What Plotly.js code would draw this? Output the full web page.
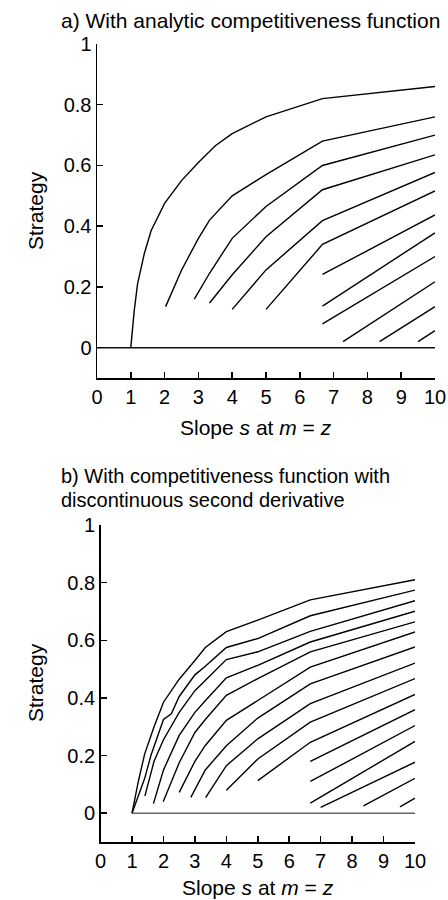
<!DOCTYPE html>
<html>
<head>
<meta charset="utf-8">
<script src="https://cdn.plot.ly/plotly-3.0.1.min.js"></script>
<style>html,body{margin:0;padding:0;background:#fff;}#chart{width:448px;height:900px;}</style>
</head>
<body>
<div id="chart"></div>
<script>
// ---------- Panel a) With analytic competitiveness function ----------
const a1x = [1, 1.1, 1.2, 1.4, 1.6, 2, 2.5, 3, 3.5, 4, 5, 6.67, 10];
const a1y = [0, 0.12, 0.21, 0.31, 0.385, 0.475, 0.55, 0.61, 0.665, 0.705, 0.76, 0.82, 0.86];
const a2x = [2.03, 2.5, 3, 3.33, 4, 5, 6.67, 10];
const a2y = [0.135, 0.255, 0.36, 0.42, 0.5, 0.57, 0.68, 0.76];
const a3x = [2.88, 3.33, 4, 5, 6.67, 10];
const a3y = [0.16, 0.245, 0.36, 0.465, 0.6, 0.7];
const a4x = [3.33, 4, 5, 6.67, 10];
const a4y = [0.147, 0.24, 0.365, 0.52, 0.635];
const a5x = [4, 5, 6.67, 10];
const a5y = [0.126, 0.256, 0.418, 0.577];
const a6x = [5, 6.67, 10];
const a6y = [0.126, 0.34, 0.516];
const a7x = [6.67, 10];
const a7y = [0.241, 0.437];
const a8x = [6.67, 10];
const a8y = [0.137, 0.378];
const a9x = [6.67, 10];
const a9y = [0.078, 0.30];
const a10x = [7.28, 10];
const a10y = [0.02, 0.217];
const a11x = [8.36, 10];
const a11y = [0.02, 0.135];
const a12x = [9.5, 10];
const a12y = [0.02, 0.056];
const aZeroX = [0, 10];
const aZeroY = [0, 0];

// ---------- Panel b) With competitiveness function with discontinuous second derivative ----------
const b1x = [1, 1.2, 1.4, 1.7, 2, 2.5, 3, 3.33, 4, 5, 6.67, 10];
const b1y = [0, 0.11, 0.205, 0.30, 0.385, 0.465, 0.53, 0.575, 0.63, 0.67, 0.74, 0.81];
const b2x = [1, 1.1, 1.25, 1.4, 1.6, 2, 2.25, 2.5, 3, 3.33, 4, 5, 6.67, 10];
const b2y = [0, 0.03, 0.07, 0.12, 0.2, 0.325, 0.345, 0.405, 0.48, 0.51, 0.575, 0.606, 0.685, 0.774];
const b3x = [1.41, 1.7, 2, 2.5, 3, 3.33, 4, 5, 6.67, 10];
const b3y = [0.06, 0.18, 0.255, 0.35, 0.425, 0.46, 0.533, 0.56, 0.631, 0.737];
const b4x = [1.68, 2, 2.5, 3, 3.33, 4, 5, 6.67, 10];
const b4y = [0.033, 0.15, 0.27, 0.35, 0.39, 0.47, 0.513, 0.594, 0.701];
const b5x = [1.99, 2.5, 3, 3.33, 4, 5, 6.67, 10];
const b5y = [0.04, 0.175, 0.28, 0.325, 0.409, 0.467, 0.56, 0.664];
const b6x = [2.5, 3, 3.33, 4, 5, 6.67, 10];
const b6y = [0.072, 0.18, 0.235, 0.322, 0.391, 0.507, 0.629];
const b7x = [2.87, 3.33, 4, 5, 6.67, 10];
const b7y = [0.055, 0.15, 0.234, 0.33, 0.449, 0.577];
const b8x = [3.34, 4, 5, 6.67, 10];
const b8y = [0.054, 0.165, 0.258, 0.38, 0.521];
const b9x = [4, 5, 6.67, 10];
const b9y = [0.08, 0.188, 0.316, 0.467];
const b10x = [5, 6.67, 10];
const b10y = [0.113, 0.246, 0.412];
const b11x = [6.67, 10];
const b11y = [0.18, 0.359];
const b12x = [6.67, 10];
const b12y = [0.11, 0.304];
const b13x = [6.67, 10];
const b13y = [0.035, 0.249];
const b14x = [7.0, 10];
const b14y = [0.02, 0.177];
const b15x = [8.36, 10];
const b15y = [0.025, 0.121];
const b16x = [9.52, 10];
const b16y = [0.022, 0.052];
const bZeroX = [1, 10];
const bZeroY = [0, 0];

// ---------- Tick labels and texts ----------
const xTickVals = [0, 1, 2, 3, 4, 5, 6, 7, 8, 9, 10];
const xTickText = ['0', '1', '2', '3', '4', '5', '6', '7', '8', '9', '10'];
const yTickVals = [0, 0.2, 0.4, 0.6, 0.8, 1];
const yTickText = ['0', '0.2', '0.4', '0.6', '0.8', '1'];
const titleA = 'a) With analytic competitiveness function';
const titleB1 = 'b) With competitiveness function with';
const titleB2 = 'discontinuous second derivative';
const xTitle = 'Slope <i>s</i> at <i>m</i> = <i>z</i>';
const yTitle = 'Strategy';

const FONT = 'Liberation Sans, Arial, Helvetica, sans-serif';
const W = 448, H = 900;
const px = v => v / W;
const py = v => 1 - v / H;

const seriesA = [[a1x,a1y],[a2x,a2y],[a3x,a3y],[a4x,a4y],[a5x,a5y],[a6x,a6y],[a7x,a7y],[a8x,a8y],[a9x,a9y],[a10x,a10y],[a11x,a11y],[a12x,a12y]];
const seriesB = [[b1x,b1y],[b2x,b2y],[b3x,b3y],[b4x,b4y],[b5x,b5y],[b6x,b6y],[b7x,b7y],[b8x,b8y],[b9x,b9y],[b10x,b10y],[b11x,b11y],[b12x,b12y],[b13x,b13y],[b14x,b14y],[b15x,b15y],[b16x,b16y]];

const traces = [];
traces.push({x: aZeroX, y: aZeroY, xaxis: 'x', yaxis: 'y', mode: 'lines', line: {color: '#111', width: 1.5}, hoverinfo: 'skip'});
seriesA.forEach(s => traces.push({x: s[0], y: s[1], xaxis: 'x', yaxis: 'y', mode: 'lines', line: {color: '#000', width: 1.4}, hoverinfo: 'skip'}));
traces.push({x: bZeroX, y: bZeroY, xaxis: 'x2', yaxis: 'y2', mode: 'lines', line: {color: '#666', width: 1.5}, hoverinfo: 'skip'});
seriesB.forEach(s => traces.push({x: s[0], y: s[1], xaxis: 'x2', yaxis: 'y2', mode: 'lines', line: {color: '#000', width: 1.4}, hoverinfo: 'skip'}));

function xAxis(domain, anchor) {
  return {domain: domain, anchor: anchor, range: [0, 10], tickmode: 'array', tickvals: xTickVals, ticktext: xTickText,
    showgrid: false, zeroline: false, showline: true, linecolor: '#000', linewidth: 1.5,
    ticks: 'inside', ticklen: 6, tickwidth: 1.5, tickcolor: '#000',
    tickfont: {family: FONT, size: 20, color: '#000'}, fixedrange: true};
}
function yAxis(domain, anchor) {
  return {domain: domain, anchor: anchor, range: [-0.1, 1], tickmode: 'array', tickvals: yTickVals, ticktext: yTickText,
    showgrid: false, zeroline: false, showline: true, linecolor: '#000', linewidth: 1.5,
    ticks: 'inside', ticklen: 6, tickwidth: 1.5, tickcolor: '#000',
    tickfont: {family: FONT, size: 20, color: '#000'}, fixedrange: true};
}

const ann = (text, x, y, opts) => Object.assign({text: text, x: x, y: y, xref: 'paper', yref: 'paper', showarrow: false,
  font: {family: FONT, size: 21, color: '#000'}, xanchor: 'left', yanchor: 'middle', borderpad: 0}, opts || {});

const layout = {
  width: W, height: H,
  margin: {l: 0, r: 0, t: 0, b: 0},
  paper_bgcolor: '#fff', plot_bgcolor: '#fff',
  showlegend: false,
  xaxis: xAxis([px(97), px(435)], 'y'),
  yaxis: yAxis([py(378), py(44)], 'x'),
  xaxis2: xAxis([px(100.6), px(415)], 'y2'),
  yaxis2: yAxis([py(842), py(525)], 'x2'),
  annotations: [
    ann(titleA, px(60), py(21)),
    ann(titleB1, px(60), py(475.5), {font: {family: FONT, size: 20, color: '#000'}}),
    ann(titleB2, px(60), py(499.5), {font: {family: FONT, size: 20, color: '#000'}}),
    ann(xTitle, px(256), py(427), {xanchor: 'center'}),
    ann(xTitle, px(258), py(887), {xanchor: 'center'}),
    ann(yTitle, px(35), py(211), {xanchor: 'center', textangle: -90}),
    ann(yTitle, px(35), py(683), {xanchor: 'center', textangle: -90})
  ]
};

Plotly.newPlot('chart', traces, layout, {displayModeBar: false, staticPlot: true});
</script>
</body>
</html>
